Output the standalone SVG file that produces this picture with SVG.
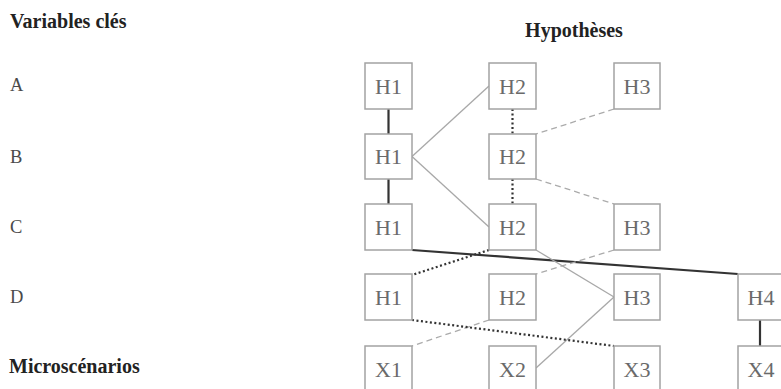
<svg xmlns="http://www.w3.org/2000/svg" width="781" height="389" viewBox="0 0 781 389">
<style>
.bg{fill:#ffffff}
.box rect{fill:#ffffff;stroke:#a3a3a3;stroke-width:1.5}
.box text{font-family:"Liberation Serif","Times New Roman",serif;font-size:22px;fill:#6a6a6a;text-anchor:middle}
.lbl{font-family:"Liberation Serif","Times New Roman",serif;font-size:18.5px;fill:#4a4a4a}
.ttl{font-family:"Liberation Serif","Times New Roman",serif;font-size:20px;font-weight:bold;fill:#222}
.solid{stroke:#333;stroke-width:2.2;fill:none}
.thin{stroke:#a8a8a8;stroke-width:1.3;fill:none}
.dot{stroke:#333;stroke-width:2.2;stroke-dasharray:2 2.5;fill:none}
.dash{stroke:#ababab;stroke-width:1.3;stroke-dasharray:6 4;fill:none}
</style>
<rect class="bg" x="0" y="0" width="781" height="389"/>
<g id="labels">
<text class="ttl" x="10" y="28">Variables clés</text>
<text class="ttl" x="574" y="37" text-anchor="middle">Hypothèses</text>
<text class="lbl" x="10" y="91">A</text>
<text class="lbl" x="10" y="163">B</text>
<text class="lbl" x="10" y="233">C</text>
<text class="lbl" x="10" y="303">D</text>
<text class="ttl" x="9" y="373">Microscénarios</text>
</g>
<g id="connectors">
<line class="solid" x1="388.5" y1="109" x2="388.5" y2="134"/>
<line class="solid" x1="388.5" y1="179" x2="388.5" y2="204"/>
<line class="thin" x1="412" y1="156.5" x2="489" y2="86"/>
<line class="thin" x1="412" y1="156.5" x2="489" y2="227"/>
<line class="dot" x1="512.5" y1="109" x2="512.5" y2="134"/>
<line class="dot" x1="512.5" y1="179" x2="512.5" y2="204"/>
<line class="dash" x1="614" y1="109" x2="536" y2="134"/>
<line class="dash" x1="536" y1="179" x2="614" y2="204"/>
<line class="solid" x1="412" y1="250" x2="738" y2="274"/>
<line class="dot" x1="489" y1="250" x2="412" y2="275"/>
<line class="dash" x1="614" y1="250" x2="536" y2="274"/>
<line class="thin" x1="536" y1="250" x2="614" y2="297"/>
<line class="thin" x1="614" y1="297" x2="536" y2="368"/>
<line class="dash" x1="489" y1="320" x2="412" y2="346"/>
<line class="dot" x1="412" y1="320" x2="614" y2="346"/>
<line class="solid" x1="760" y1="320" x2="760" y2="346"/>
</g>
<g id="A-H1" class="box"><rect x="365" y="63" width="47" height="46"/><text x="388.5" y="93.5">H1</text></g>
<g id="A-H2" class="box"><rect x="489" y="63" width="47" height="46"/><text x="512.5" y="93.5">H2</text></g>
<g id="A-H3" class="box"><rect x="614" y="63" width="46" height="46"/><text x="637" y="93.5">H3</text></g>
<g id="B-H1" class="box"><rect x="365" y="134" width="47" height="45"/><text x="388.5" y="164">H1</text></g>
<g id="B-H2" class="box"><rect x="489" y="134" width="47" height="45"/><text x="512.5" y="164">H2</text></g>
<g id="C-H1" class="box"><rect x="365" y="204" width="47" height="46"/><text x="388.5" y="234.5">H1</text></g>
<g id="C-H2" class="box"><rect x="489" y="204" width="47" height="46"/><text x="512.5" y="234.5">H2</text></g>
<g id="C-H3" class="box"><rect x="614" y="204" width="46" height="46"/><text x="637" y="234.5">H3</text></g>
<g id="D-H1" class="box"><rect x="365" y="274" width="47" height="46"/><text x="388.5" y="304.5">H1</text></g>
<g id="D-H2" class="box"><rect x="489" y="274" width="47" height="46"/><text x="512.5" y="304.5">H2</text></g>
<g id="D-H3" class="box"><rect x="614" y="274" width="46" height="46"/><text x="637" y="304.5">H3</text></g>
<g id="D-H4" class="box"><rect x="738" y="274" width="46" height="46"/><text x="761" y="304.5">H4</text></g>
<g id="X1" class="box"><rect x="365" y="346" width="47" height="46"/><text x="388.5" y="376.5">X1</text></g>
<g id="X2" class="box"><rect x="489" y="346" width="47" height="46"/><text x="512.5" y="376.5">X2</text></g>
<g id="X3" class="box"><rect x="614" y="346" width="46" height="46"/><text x="637" y="376.5">X3</text></g>
<g id="X4" class="box"><rect x="738" y="346" width="46" height="46"/><text x="761" y="376.5">X4</text></g>
</svg>
